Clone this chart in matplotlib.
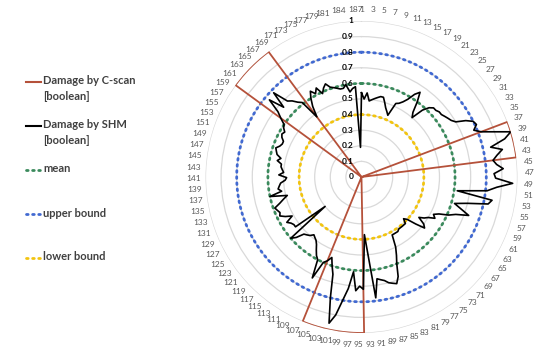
import numpy as np
import matplotlib
matplotlib.use("Agg")
import matplotlib.pyplot as plt
from matplotlib.lines import Line2D

plt.rcParams['font.family'] = ['Lato', 'DejaVu Sans']

# categories 1..187 around the radar
categories = list(range(1, 188))
tick_labels = [str(c) for c in range(1, 182, 2)] + ["184", "187"]
tick_cats = list(range(1, 182, 2)) + [184, 187]

# damage found by SHM
shm = [0.54, 0.50, 0.54, 0.49, 0.50, 0.51, 0.52, 0.53, 0.53, 0.50,
       0.47, 0.45, 0.43, 0.52, 0.53, 0.55, 0.58, 0.63, 0.66, 0.60,
       0.53, 0.50, 0.58, 0.62, 0.64, 0.64, 0.65, 0.65, 0.66, 0.67,
       0.68, 0.70, 0.76, 0.80, 0.81, 0.78, 0.82, 0.90, 1.00, 0.95,
       0.85, 0.92, 0.88, 0.85, 0.87, 0.91, 0.85, 0.86, 0.97, 0.87,
       0.81, 0.62, 0.85, 0.83, 0.70, 0.62, 0.67, 0.73, 0.65, 0.61,
       0.55, 0.52, 0.54, 0.50, 0.48, 0.45, 0.50, 0.52, 0.46, 0.40,
       0.38, 0.41, 0.41, 0.41, 0.41, 0.41, 0.42, 0.42, 0.42, 0.42,
       0.50, 0.55, 0.60, 0.68, 0.72, 0.71, 0.70, 0.68, 0.67, 0.66,
       0.78, 0.50, 0.37, 0.72, 0.70, 0.73, 0.61, 0.72, 0.80, 0.90,
       0.96, 0.80, 0.65, 0.60, 0.55, 0.58, 0.60, 0.72, 0.60, 0.58,
       0.55, 0.52, 0.50, 0.49, 0.48, 0.50, 0.51, 0.52, 0.57, 0.60,
       0.30, 0.53, 0.53, 0.54, 0.56, 0.51, 0.55, 0.58, 0.57, 0.58,
       0.59, 0.55, 0.52, 0.49, 0.60, 0.52, 0.54, 0.53, 0.52, 0.49,
       0.48, 0.53, 0.50, 0.51, 0.52, 0.52, 0.55, 0.53, 0.56, 0.57,
       0.58, 0.56, 0.55, 0.55, 0.57, 0.58, 0.57, 0.59, 0.60, 0.64,
       0.68, 0.77, 0.67, 0.78, 0.68, 0.66, 0.63, 0.61, 0.48, 0.55,
       0.60, 0.64, 0.61, 0.64, 0.59, 0.62, 0.64, 0.61, 0.60, 0.59,
       0.58, 0.58, 0.60, 0.55, 0.57, 0.58, 0.19]

# categories flagged as damaged by C-scan
cscan_hits = [37, 38, 39, 40, 41, 42, 43, 44,
              94, 95, 96, 97, 98, 99, 100, 101, 102, 103, 104, 105, 106,
              160, 161, 162, 163, 164, 165, 166, 167, 168, 169]
cscan = [1 if c in cscan_hits else 0 for c in categories]

mean_val = 0.6
upper_val = 0.8
lower_val = 0.4

n = len(categories)
theta = np.array([2 * np.pi * (c - 1) / n for c in categories])
th_closed = np.append(theta, theta[0])


def closed(vals):
    return np.append(vals, vals[0])


fig = plt.figure(figsize=(5.5, 3.51), dpi=100)
ax = fig.add_axes([0.3736, 0.0513, 0.5673, 0.8889], projection='polar')
ax.set_theta_zero_location('N')
ax.set_theta_direction(-1)

red = '#b5513a'
green = '#3a8a5c'
blue = '#4169d1'
yellow = '#f2c40f'
ax.plot(th_closed, closed(cscan), color=red, lw=1.3, zorder=4)
ax.plot(th_closed, closed(shm), color='black', lw=1.2, zorder=5)
dots = dict(lw=2.0, linestyle=(0, (0.6, 1.6)), dash_capstyle='round', zorder=3)
ax.plot(th_closed, np.full(n + 1, mean_val), color=green, **dots)
ax.plot(th_closed, np.full(n + 1, upper_val), color=blue, **dots)
ax.plot(th_closed, np.full(n + 1, lower_val), color=yellow, **dots)

ax.set_ylim(0, 1)
ax.set_yticks(np.arange(0.1, 1.01, 0.1))
ax.set_yticklabels([])
ax.yaxis.grid(True, color='#d9d9d9', lw=0.9)
ax.xaxis.grid(False)
ax.spines['polar'].set_visible(False)

ax.set_xticks([2 * np.pi * (c - 1) / n for c in tick_cats])
ax.set_xticklabels(tick_labels, fontsize=6, color='#595959')
ax.tick_params(axis='x', pad=-2)

for k in range(11):
    r = k / 10
    lab = "0" if k == 0 else ("1" if k == 10 else "%.1f" % r)
    ax.annotate(lab, xy=(0, r), xytext=(-6, 0), textcoords='offset points',
                ha='right', va='center', fontsize=6, fontweight='bold',
                color='black', zorder=6)

# legend, drawn by hand on the left
legend_labels = ["Damage by C-scan\n[boolean]", "Damage by SHM\n[boolean]",
                 "mean", "upper bound", "lower bound"]
legend_styles = [dict(color=red, lw=1.5),
                 dict(color='black', lw=1.5),
                 dict(color=green, lw=2, linestyle=(0, (0.6, 1.6)), dash_capstyle='round'),
                 dict(color=blue, lw=2, linestyle=(0, (0.6, 1.6)), dash_capstyle='round'),
                 dict(color=yellow, lw=2, linestyle=(0, (0.6, 1.6)), dash_capstyle='round')]
W, H = 550, 351
for j, (lab, st) in enumerate(zip(legend_labels, legend_styles)):
    y = 82 + 44 * j
    fig.add_artist(Line2D([26 / W, 41 / W], [1 - y / H, 1 - y / H], **st))
    fig.text(43 / W, 1 - (y - 6.5) / H, lab, ha='left', va='top', fontsize=8,
             fontweight='bold', color='#404040', linespacing=1.45)

fig.savefig('out.png', dpi=100)
